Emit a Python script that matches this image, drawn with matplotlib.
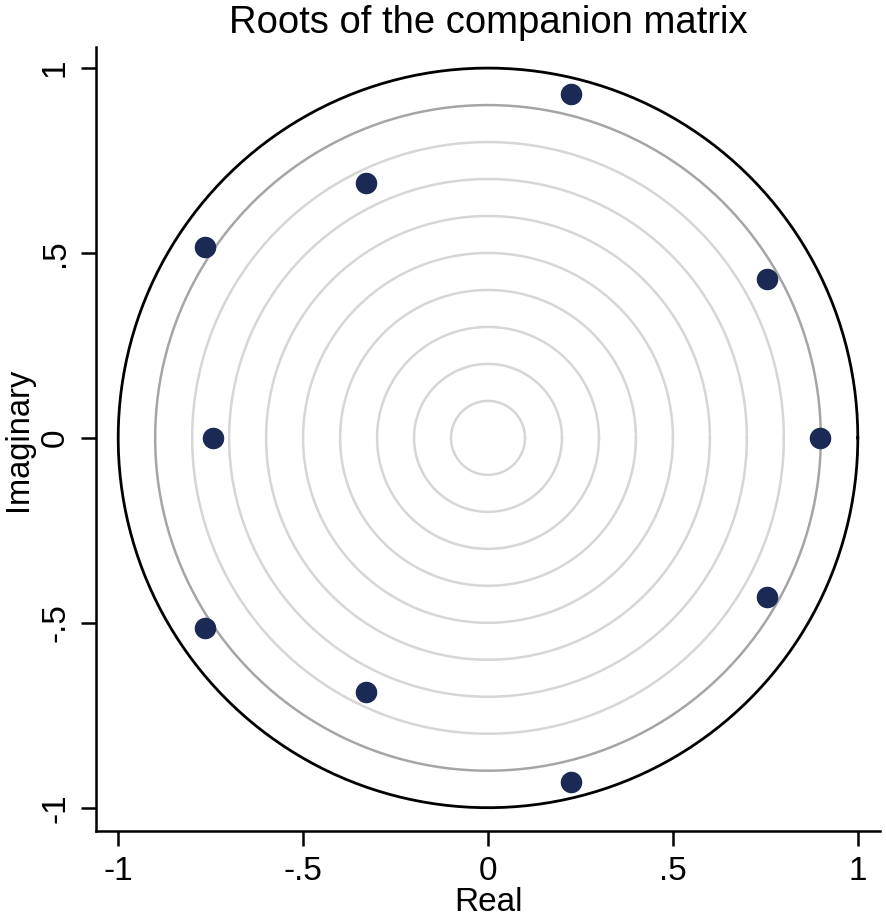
import numpy as np
import matplotlib.pyplot as plt

plt.rcParams['font.family'] = ['Liberation Sans', 'DejaVu Sans']

# roots of the companion matrix (real, imaginary)
real = [0.224, -0.330, -0.765, 0.754, 0.897, -0.743, 0.754, -0.765, -0.330, 0.224]
imag = [0.929, 0.689, 0.515, 0.429, 0.0, 0.0, -0.430, -0.514, -0.688, -0.931]

grid_radii = [0.1, 0.2, 0.3, 0.4, 0.5, 0.6, 0.7, 0.8]
ticks = [-1, -0.5, 0, 0.5, 1]
tick_labels = ['-1', '-.5', '0', '.5', '1']

fig = plt.figure(figsize=(8.86, 9.24), dpi=100)
ax = fig.add_axes([96 / 886, 93 / 924, 784 / 886, 784 / 924])

t = np.linspace(0, 2 * np.pi, 400)
for r in grid_radii:
    ax.plot(r * np.cos(t), r * np.sin(t), color='#d6d6d6', lw=1.8, zorder=1)
ax.plot(0.9 * np.cos(t), 0.9 * np.sin(t), color='#a5a5a5', lw=1.8, zorder=1)
ax.plot(np.cos(t), np.sin(t), color='black', lw=2.0, zorder=2)

ax.plot(real, imag, 'o', color='#1a2a55', ms=14.5, zorder=3)

ax.set_xlim(-1.06, 1.06)
ax.set_ylim(-1.063, 1.057)
ax.spines['top'].set_visible(False)
ax.spines['right'].set_visible(False)
ax.spines['left'].set_linewidth(1.8)
ax.spines['bottom'].set_linewidth(1.8)

ax.set_xticks(ticks)
ax.set_xticklabels(tick_labels)
ax.set_yticks(ticks)
ax.set_yticklabels(tick_labels, rotation=90, va='center')
ax.tick_params(direction='out', length=11, width=1.8, labelsize=24, pad=7)

ax.set_xlabel('Real', fontsize=24, labelpad=0)
ax.set_ylabel('Imaginary', fontsize=23.5, labelpad=4)
ax.set_title('Roots of the companion matrix', fontsize=27.5, pad=10)

fig.savefig('out.png', dpi=100)
